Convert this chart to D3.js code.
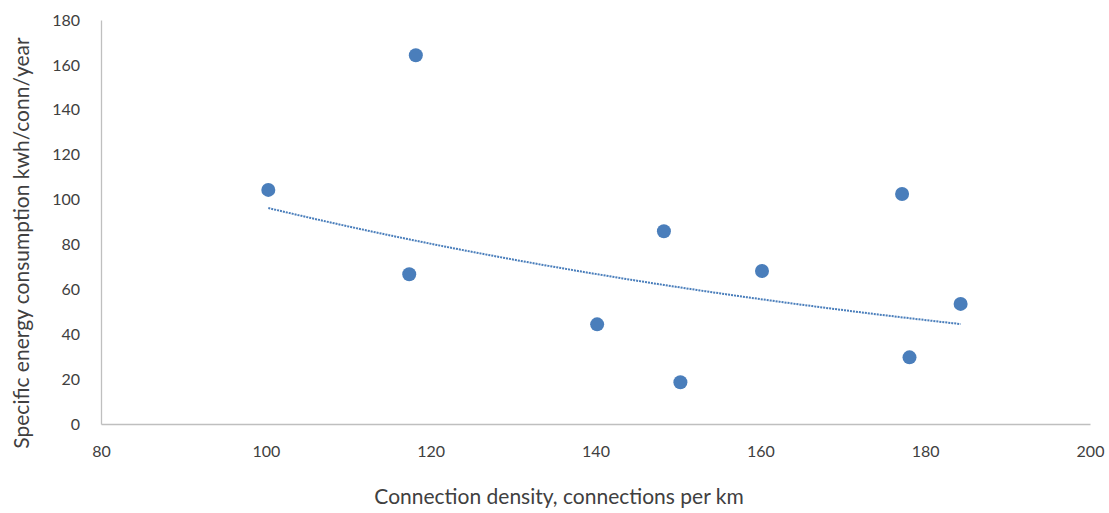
<!DOCTYPE html>
<html>
<head>
<meta charset="utf-8">
<script src="https://cdn.jsdelivr.net/npm/d3@7"></script>
<style>
  body { margin: 0; background: #fff; }
  svg text { font-family: Lato, "Open Sans", sans-serif; fill: #404040; }
</style>
</head>
<body>
<svg id="chart" width="1109" height="513"></svg>
<script>
// connection density (connections per km)
let density = [100.3, 118.2, 117.4, 140.2, 148.3, 150.3, 160.2, 177.2, 178.1, 184.3];
// specific energy consumption (kwh/conn/year)
let consumption = [104.3, 164.3, 66.7, 44.4, 85.9, 18.6, 68.2, 102.5, 29.7, 53.5];

let xTicks = [80, 100, 120, 140, 160, 180, 200];
let yTicks = [0, 20, 40, 60, 80, 100, 120, 140, 160, 180];

let svg = d3.select("#chart");

let x = d3.scaleLinear().domain([80, 200]).range([101, 1090]);
let y = d3.scaleLinear().domain([0, 180]).range([424, 20]);

// axes, no tick marks (excel style)
let xAxis = svg.append("g")
  .attr("transform", "translate(0," + y(0) + ")")
  .call(d3.axisBottom(x).tickValues(xTicks).tickSize(0).tickPadding(22));
let yAxis = svg.append("g")
  .attr("transform", "translate(" + x(80) + ",0)")
  .call(d3.axisLeft(y).tickValues(yTicks).tickSize(0).tickPadding(21));

[xAxis, yAxis].forEach((g) => {
  g.select(".domain").attr("stroke", "#bfbfbf").attr("stroke-width", 1.3);
  g.selectAll("text").style("font-size", "16px").attr("fill", "#404040");
});

// exponential trendline, least squares on ln(y) like excel does
let pts = density.map((d, i) => [d, consumption[i]]);
let mx = d3.mean(pts, (p) => p[0]);
let my = d3.mean(pts, (p) => Math.log(p[1]));
let b = d3.sum(pts, (p) => (p[0] - mx) * (Math.log(p[1]) - my)) /
        d3.sum(pts, (p) => (p[0] - mx) * (p[0] - mx));
let a = Math.exp(my - b * mx);
let xs = d3.range(d3.min(density), d3.max(density), 1).concat([d3.max(density)]);

svg.append("path")
  .datum(xs)
  .attr("fill", "none")
  .attr("stroke", "#4a7ebb")
  .attr("stroke-width", 2)
  .attr("stroke-dasharray", "2,1")
  .attr("d", d3.line().x((d) => x(d)).y((d) => y(a * Math.exp(b * d))));

svg.selectAll("circle")
  .data(pts)
  .enter()
  .append("circle")
  .attr("cx", (d) => x(d[0]))
  .attr("cy", (d) => y(d[1]))
  .attr("r", 7)
  .attr("fill", "#4a7ebb");

svg.append("text")
  .attr("x", 559)
  .attr("y", 504)
  .attr("text-anchor", "middle")
  .style("font-size", "21px")
  .text("Connection density, connections per km");

svg.append("text")
  .attr("transform", "translate(29,243) rotate(-90)")
  .attr("text-anchor", "middle")
  .style("font-size", "21px")
  .text("Specific energy consumption kwh/conn/year");
</script>
</body>
</html>
